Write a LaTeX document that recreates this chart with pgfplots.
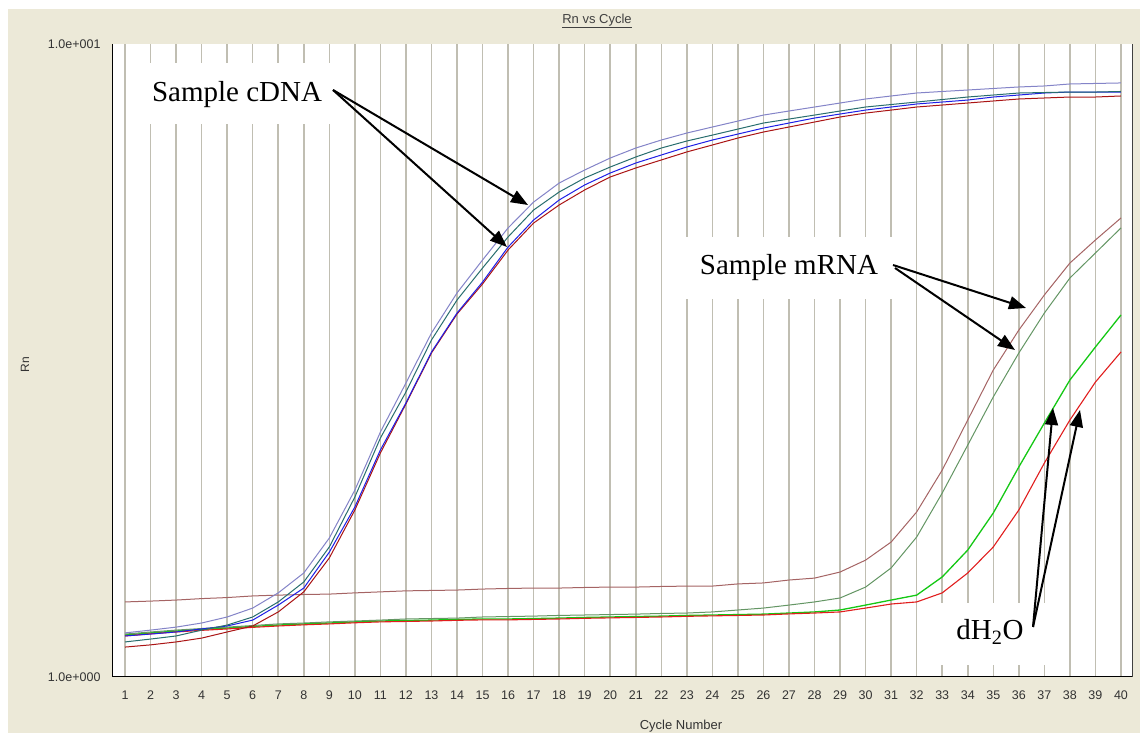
\documentclass[border=0pt]{standalone}
\usepackage{fontspec}
\setmainfont{Liberation Serif}
\newfontfamily\uisans{Liberation Sans}
\usepackage{pgfplots}
\usepackage{pgfplotstable}
\pgfplotsset{compat=1.18}
\usetikzlibrary{arrows.meta}

\definecolor{xpbeige}{RGB}{236,233,216}
\definecolor{gridc}{RGB}{192,190,178}
\definecolor{lavc}{RGB}{132,132,200}
\definecolor{tealc}{RGB}{40,110,110}
\definecolor{bluec}{RGB}{30,30,230}
\definecolor{dredc}{RGB}{170,20,20}
\definecolor{mrnaa}{RGB}{165,100,100}
\definecolor{mrnab}{RGB}{100,150,100}
\definecolor{watg}{RGB}{20,200,20}
\definecolor{watr}{RGB}{225,30,30}

% Rn per cycle
\pgfplotstableread{
cyc lav teal blue dred
1 1.174 1.136 1.161 1.115
2 1.186 1.148 1.169 1.124
3 1.199 1.161 1.178 1.136
4 1.217 1.186 1.191 1.152
5 1.244 1.208 1.204 1.178
6 1.285 1.244 1.230 1.204
7 1.358 1.314 1.299 1.267
8 1.460 1.413 1.382 1.363
9 1.658 1.605 1.575 1.542
10 1.974 1.925 1.856 1.836
11 2.438 2.385 2.284 2.259
12 2.914 2.820 2.710 2.700
13 3.495 3.407 3.262 3.250
14 4.043 3.941 3.758 3.745
15 4.558 4.427 4.207 4.177
16 5.122 4.957 4.778 4.727
17 5.628 5.467 5.272 5.214
18 6.031 5.837 5.670 5.568
19 6.324 6.142 5.989 5.881
20 6.605 6.393 6.255 6.165
21 6.850 6.630 6.486 6.370
22 7.052 6.850 6.678 6.558
23 7.234 7.027 6.876 6.753
24 7.394 7.180 7.052 6.926
25 7.557 7.339 7.207 7.104
26 7.723 7.502 7.366 7.261
27 7.837 7.612 7.502 7.394
28 7.952 7.723 7.640 7.530
29 8.068 7.837 7.752 7.669
30 8.187 7.952 7.865 7.780
31 8.277 8.024 7.952 7.865
32 8.367 8.097 8.039 7.952
33 8.414 8.171 8.097 8.009
34 8.459 8.246 8.156 8.068
35 8.506 8.306 8.246 8.128
36 8.553 8.367 8.306 8.187
37 8.584 8.382 8.367 8.217
38 8.647 8.397 8.397 8.246
39 8.663 8.397 8.397 8.246
40 8.679 8.414 8.397 8.277
}\cdna

\pgfplotstableread{
cyc ma mb
1 1.314 1.169
2 1.318 1.178
3 1.323 1.186
4 1.330 1.193
5 1.335 1.199
6 1.343 1.206
7 1.347 1.213
8 1.350 1.217
9 1.352 1.222
10 1.358 1.226
11 1.363 1.230
12 1.368 1.235
13 1.370 1.237
14 1.372 1.239
15 1.377 1.244
16 1.380 1.246
17 1.382 1.248
18 1.382 1.251
19 1.385 1.253
20 1.387 1.255
21 1.387 1.257
22 1.390 1.260
23 1.392 1.262
24 1.392 1.267
25 1.403 1.276
26 1.408 1.285
27 1.423 1.299
28 1.433 1.314
29 1.465 1.333
30 1.530 1.387
31 1.634 1.487
32 1.823 1.664
33 2.123 1.953
34 2.547 2.325
35 3.055 2.770
36 3.533 3.250
37 4.014 3.758
38 4.508 4.269
39 4.902 4.676
40 5.311 5.122
}\mrna

\pgfplotstableread{
cyc g r
1 1.165 1.161
2 1.174 1.170
3 1.182 1.178
4 1.189 1.185
5 1.195 1.191
6 1.202 1.198
7 1.208 1.204
8 1.213 1.209
9 1.217 1.213
10 1.222 1.218
11 1.226 1.222
12 1.228 1.224
13 1.230 1.226
14 1.233 1.229
15 1.235 1.231
16 1.235 1.231
17 1.237 1.233
18 1.239 1.235
19 1.242 1.238
20 1.244 1.240
21 1.246 1.242
22 1.248 1.244
23 1.251 1.247
24 1.253 1.249
25 1.255 1.251
26 1.257 1.253
27 1.262 1.258
28 1.267 1.262
29 1.276 1.267
30 1.299 1.285
31 1.323 1.304
32 1.347 1.314
33 1.439 1.358
34 1.587 1.460
35 1.816 1.605
36 2.147 1.836
37 2.519 2.178
38 2.946 2.547
39 3.322 2.924
40 3.732 3.262
}\water

\begin{document}
\begin{tikzpicture}
\useasboundingbox (0,0) rectangle (1140pt,733pt);
\fill[white] (0,0) rectangle (1140pt,733pt);
\fill[xpbeige] (8pt,0) rectangle (1140pt,724pt);

\begin{axis}[
    at={(112pt,56pt)}, anchor=south west,
    scale only axis,
    width=1021pt, height=633pt,
    ymode=log,
    xmin=0.49, xmax=40.47,
    ymin=1, ymax=10,
    xtick={1,...,40},
    ytick={1,10},
    yticklabels={1.0e+000,1.0e+001},
    major tick length=0pt,
    minor tick length=0pt,
    minor ytick={},
    xmajorgrids,
    ymajorgrids=false,
    major grid style={gridc, line width=1.5pt},
    axis background/.style={fill=white},
    axis line style={draw=none},
    /pgf/number format/assume math mode=true,
    ticklabel style={font=\uisans\fontsize{12.5}{14}\selectfont, text=black!80},
    xticklabel style={anchor=center, yshift=-18pt},
    yticklabel style={anchor=east, xshift=-8pt},
    no markers,
    every axis plot/.append style={line width=1pt},
]
\addplot[watg, line width=1.3pt] table[x=cyc, y=g] {\water};
\addplot[watr, line width=1.1pt] table[x=cyc, y=r] {\water};
\addplot[mrnab] table[x=cyc, y=mb] {\mrna};
\addplot[mrnaa] table[x=cyc, y=ma] {\mrna};
\addplot[dredc] table[x=cyc, y=dred] {\cdna};
\addplot[bluec] table[x=cyc, y=blue] {\cdna};
\addplot[tealc] table[x=cyc, y=teal] {\cdna};
\addplot[lavc] table[x=cyc, y=lav] {\cdna};

\draw[black, line width=2.2pt] (rel axis cs:0,1) -- (rel axis cs:0,0) -- (rel axis cs:1,0);
\draw[black!75, line width=1.8pt] (rel axis cs:1,0) -- (rel axis cs:1,1);
\end{axis}

% label boxes cover the grid
\fill[white] (138pt,609pt) rectangle (342pt,670pt);
\fill[white] (675pt,434pt) rectangle (900pt,496pt);
\fill[white] (930pt,68pt) rectangle (1057pt,130pt);

\node[anchor=base, font=\fontsize{29}{32}\selectfont] at (237pt,631pt) {Sample cDNA};
\node[anchor=base, font=\fontsize{29}{32}\selectfont] at (789pt,458pt) {Sample mRNA};
\node[anchor=base, font=\fontsize{29}{32}\selectfont] at (990pt,93pt) {dH\textsubscript{2}O};

\begin{scope}[line width=2pt, -{Triangle[length=17pt,width=13pt]}]
\draw (333pt,643pt) -- (528pt,528pt);
\draw (333pt,643pt) -- (507pt,486pt);
\draw (893pt,468pt) -- (1026pt,425pt);
\draw (895pt,465pt) -- (1015pt,383pt);
\draw (1033pt,106pt) -- (1053pt,325pt);
\draw (1033pt,106pt) -- (1080pt,323pt);
\end{scope}

\node[font=\uisans\fontsize{13}{15}\selectfont, text=black!75] at (597pt,712pt) {\underline{Rn vs Cycle}};
\node[font=\uisans\fontsize{13}{15}\selectfont, text=black!80] at (681pt,7pt) {Cycle Number};
\node[font=\uisans\fontsize{12}{14}\selectfont, text=black!80, rotate=90] at (25pt,368pt) {Rn};
\end{tikzpicture}
\end{document}
